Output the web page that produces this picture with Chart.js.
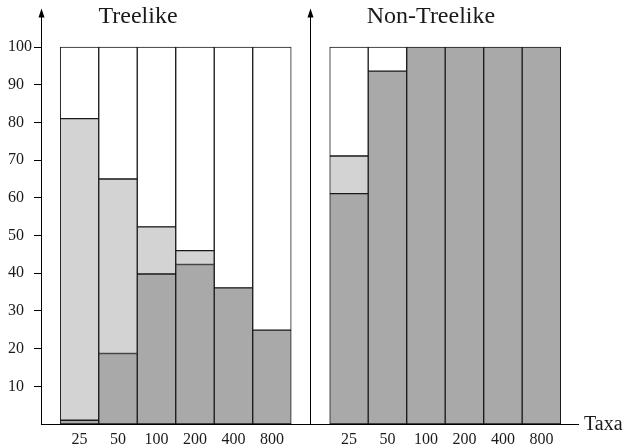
<!DOCTYPE html>
<html lang="en">
<head>
  <meta charset="UTF-8">
  <title>Treelike vs Non-Treelike</title>
  <script src="https://cdn.jsdelivr.net/npm/chart.js"></script>
  <style>
    body {
      margin: 0;
      background: #fff;
    }
    .wrap {
      width: 632px;
      height: 448px;
    }
  </style>
</head>
<body>

<div class="wrap"><canvas id="taxaChart" width="632" height="448"></canvas></div>

<script>
  // Data (percent of runs)
  const taxa = ['25', '50', '100', '200', '400', '800'];
  const treelikeDark = [1.0, 18.7, 39.8, 42.3, 36.1, 24.9];
  const treelikeLight = [80.0, 46.3, 12.5, 3.7, 0, 0];
  const nonTreelikeDark = [61.1, 93.6, 100, 100, 100, 100];
  const nonTreelikeLight = [10.0, 0, 0, 0, 0, 0];
  const yTicks = [10, 20, 30, 40, 50, 60, 70, 80, 90, 100];
  const panelTitles = ['Treelike', 'Non-Treelike'];

  const DARK = '#a9a9a9';
  const LIGHT = '#d3d3d3';
  const FONT = "'Liberation Serif', 'DejaVu Serif', serif";

  // left panel in slots 0..5, gap slot 6 holds the second axis, right panel 7..12
  const leftSlots = taxa.map((t, i) => i);
  const rightSlots = taxa.map((t, i) => i + 7);
  const tickSlots = leftSlots.concat(rightSlots);

  function points(slots, values) {
    return slots.map((s, i) => ({ x: s, y: values[i] }));
  }
  const darkPts = points(leftSlots, treelikeDark).concat(points(rightSlots, nonTreelikeDark));
  const lightPts = points(leftSlots, treelikeLight).concat(points(rightSlots, nonTreelikeLight));
  const restPts = darkPts.map((p, i) => ({ x: p.x, y: 100 - p.y - lightPts[i].y }));

  const barStyle = {
    borderColor: '#1a1a1a',
    borderWidth: 1,
    borderSkipped: false,
    barPercentage: 1,
    categoryPercentage: 1
  };

  // extra axis, arrows and text
  const decorations = {
    id: 'decorations',
    afterDraw(chart) {
      const { ctx, chartArea, scales } = chart;
      const x = scales.x;
      const top = chartArea.top;
      const bottom = chartArea.bottom;
      const leftAxis = Math.floor(chartArea.left) + 0.5;
      const rightAxis = Math.floor(x.getPixelForValue(6)) + 0.5;

      ctx.save();
      ctx.strokeStyle = '#000';
      ctx.fillStyle = '#000';
      ctx.lineWidth = 1;
      ctx.beginPath();
      ctx.moveTo(rightAxis, bottom);
      ctx.lineTo(rightAxis, top + 4);
      ctx.stroke();

      [leftAxis, rightAxis].forEach(ax => {
        ctx.beginPath();
        ctx.moveTo(ax, top - 3);
        ctx.lineTo(ax - 3, top + 6);
        ctx.lineTo(ax + 3, top + 6);
        ctx.closePath();
        ctx.fill();
      });

      ctx.fillStyle = '#1a1a1a';
      ctx.font = '24px ' + FONT;
      ctx.textAlign = 'center';
      ctx.textBaseline = 'alphabetic';
      ctx.fillText(panelTitles[0], x.getPixelForValue(1.52), 23);
      ctx.fillText(panelTitles[1], x.getPixelForValue(9.13), 23);

      ctx.font = '20px ' + FONT;
      ctx.textAlign = 'left';
      ctx.textBaseline = 'middle';
      ctx.fillText('Taxa', chartArea.right + 6, bottom + 1);
      ctx.restore();
    }
  };

  const ctx = document.getElementById('taxaChart').getContext('2d');
  new Chart(ctx, {
    type: 'bar',
    data: {
      datasets: [
        Object.assign({ label: 'dark', data: darkPts, backgroundColor: DARK }, barStyle),
        Object.assign({ label: 'light', data: lightPts, backgroundColor: LIGHT }, barStyle),
        Object.assign({ label: 'rest', data: restPts, backgroundColor: '#ffffff' }, barStyle)
      ]
    },
    options: {
      responsive: false,
      animation: false,
      layout: { padding: { left: 8, top: 5, right: 54, bottom: 0 } },
      plugins: {
        legend: { display: false },
        tooltip: { enabled: false }
      },
      scales: {
        x: {
          type: 'linear',
          stacked: true,
          offset: false,
          min: -1,
          max: 12.95,
          afterBuildTicks: scale => { scale.ticks = tickSlots.map(v => ({ value: v })); },
          afterFit: scale => { scale.height = 24; },
          grid: { display: true, drawOnChartArea: false, drawTicks: false },
          border: { display: true, color: '#000', width: 1 },
          ticks: {
            padding: 6,
            maxRotation: 0,
            autoSkip: false,
            color: '#1a1a1a',
            font: { family: FONT, size: 16 },
            callback: v => {
              const i = tickSlots.indexOf(v);
              return i < 0 ? '' : taxa[i % taxa.length];
            }
          }
        },
        y: {
          stacked: true,
          min: 0,
          max: 109.4,
          afterBuildTicks: scale => { scale.ticks = yTicks.map(v => ({ value: v })); },
          afterFit: scale => { scale.width = 33; },
          grid: { drawOnChartArea: false, drawTicks: true, tickLength: 7, color: '#000' },
          border: { display: true, color: '#000', width: 1 },
          ticks: {
            padding: 2,
            crossAlign: 'far',
            color: '#1a1a1a',
            font: { family: FONT, size: 16 }
          }
        }
      }
    },
    plugins: [decorations]
  });
</script>

</body>
</html>
